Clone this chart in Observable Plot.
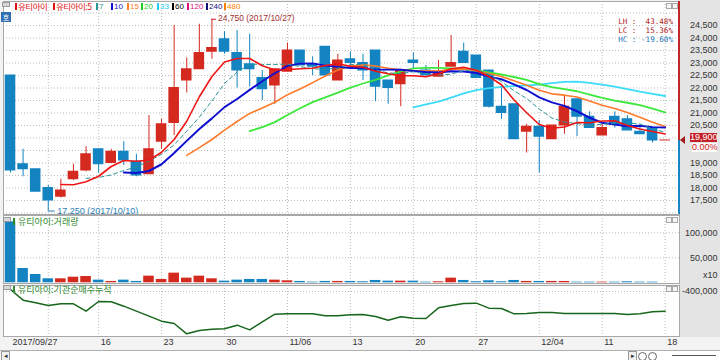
<!DOCTYPE html>
<html>
<head>
<meta charset="utf-8">
<script src="https://cdn.jsdelivr.net/npm/d3@7"></script>
<script src="https://cdn.jsdelivr.net/npm/@observablehq/plot@0.6"></script>
<style>
  html, body { margin: 0; padding: 0; background: #f3f3f3; }
  #wrap { position: relative; width: 720px; height: 360px; overflow: hidden; background: #f3f3f3;
          font-family: "Liberation Sans", "Noto Sans CJK KR", sans-serif; }
  .abs { position: absolute; }
  .panel svg { display: block; }
  .lg { position:absolute; top:1px; height:10px; display:flex; align-items:center; white-space:nowrap; font-size:8px; }
  .lg .mk { display:inline-block; width:2px; height:7px; margin-right:1px; }
  .lg .ko { font-size:8.5px; letter-spacing:-0.5px; font-family:"Noto Sans CJK KR", sans-serif; }
  .title { position:absolute; left:13px; font-size:9px; color:#2f8a2f; display:flex; align-items:center; white-space:nowrap; height:11px;
           font-family:"Noto Sans CJK KR", sans-serif; }
  .title .mk { width:2px; height:7px; background:#2f8a2f; margin-right:3px; display:inline-block; }
  .ico { position:absolute; width:6px; height:3px; border:1px solid #9a9a9a; background:#d8d8d8; }
  .btn { position:absolute; width:4px; height:4px; border:1px solid #a8a8a8; background:#f6f6f6; }
  .stat { position:absolute; right:47px; font-family:"DejaVu Sans Mono", monospace; font-size:7.6px; white-space:pre; line-height:9px; }
</style>
</head>
<body>
<div id="wrap"></div>
<script>
// ---------------- data ----------------
const tradeDates = ["2017-09-27","2017-09-28","2017-09-29","2017-10-10","2017-10-11","2017-10-12","2017-10-13",
  "2017-10-16","2017-10-17","2017-10-18","2017-10-19","2017-10-20","2017-10-23","2017-10-24","2017-10-25","2017-10-26",
  "2017-10-27","2017-10-30","2017-10-31","2017-11-01","2017-11-02","2017-11-03","2017-11-06","2017-11-07","2017-11-08",
  "2017-11-09","2017-11-10","2017-11-13","2017-11-14","2017-11-15","2017-11-16","2017-11-17","2017-11-20","2017-11-21",
  "2017-11-22","2017-11-23","2017-11-24","2017-11-27","2017-11-28","2017-11-29","2017-11-30","2017-12-01","2017-12-04",
  "2017-12-05","2017-12-06","2017-12-07","2017-12-08","2017-12-11","2017-12-12","2017-12-13","2017-12-14","2017-12-15",
  "2017-12-18"];
const openPx  = [22500,18950,18750,18000,17650,18350,18700,19550,19000,19450,19050,18550,19850,20600,22300,22750,
  23450,23950,23400,22950,22400,22100,22650,23500,22950,23650,22300,23150,23000,23500,22300,22150,23100,22700,
  22450,22850,23450,23300,22700,21250,21350,20250,20450,19950,20500,21550,20850,20100,20850,20750,20250,20400,19900];
const highPx  = [22500,19550,18750,18100,18350,18950,19650,19550,19550,19850,19350,20900,20750,24500,23200,24550,
  24750,24250,24300,24150,22700,22750,23800,23500,23250,23650,23350,23450,23350,23500,22300,22750,23400,22900,
  23100,24100,23800,23300,22700,22100,21350,20550,20700,20500,21700,21550,21050,20550,21050,20900,20450,20400,19900];
const lowPx   = [18600,18450,17850,17250,17600,18300,18650,18600,19000,18900,18450,18550,19550,20100,21800,22750,
  23150,23350,22000,22050,21500,21350,22650,22900,22500,22500,22300,22800,22300,21450,21350,21250,22750,22500,
  22450,22850,23000,22400,21200,20750,19950,19400,18600,19950,20150,20050,20400,20100,20400,20300,20150,19800,19900];
const closePx = [18700,18750,17850,17500,17900,18650,19350,18950,19450,19100,18500,19550,20550,22000,22750,23400,
  23600,23450,22700,22750,21950,22750,23500,22900,22850,22500,23100,23000,22700,22050,22000,22700,23000,22500,
  22650,23000,23000,22400,21250,21000,19950,20450,20050,20500,21250,20850,20400,20400,20550,20300,20150,19900,19900];
// volume, shown in units of 10 shares ("x10")
const volumeX10 = [122000,28600,16600,8000,8000,11200,12600,5300,2700,5300,2700,13300,6700,19300,9300,13300,
  8000,3300,5300,6700,6700,5300,4000,2700,1300,2700,2700,2700,2000,4700,3300,3300,3300,1300,2000,9300,4700,
  2000,4000,2000,4700,2700,2700,2700,2700,1300,1300,1300,1300,2000,1300,1300,0];
// institutional net buying, cumulative
const instCumulative = [-394000,-426000,-434000,-442000,-437000,-437000,-459000,-430000,-431000,-444000,-459000,
  -474000,-489000,-496000,-527000,-517000,-513000,-512000,-501000,-515000,-491000,-468000,-467000,-467000,-467000,
  -473000,-473000,-470000,-469000,-475000,-486000,-476000,-480000,-481000,-449000,-442000,-436000,-435000,-450000,
  -451000,-467000,-466000,-463000,-463000,-466000,-466000,-466000,-466000,-466000,-469000,-467000,-461000,-459000];
const maPeriods = [33, 20, 15, 10, 7, 5];
const legendLabels = ["유티아이", "유티아이:5", "7", "10", "15", "20", "33", "60", "120", "240", "480"];
const axisDates  = ["2017-09-27","2017-10-16","2017-10-23","2017-10-30","2017-11-06","2017-11-13","2017-11-20",
  "2017-11-27","2017-12-04","2017-12-11","2017-12-18"];
const axisLabels = ["2017/09/27","16","23","30","11/06","13","20","27","12/04","11","18"];
const weekGridDates = ["2017-10-10","2017-10-16","2017-10-23","2017-10-30","2017-11-06","2017-11-13","2017-11-20",
  "2017-11-27","2017-12-04","2017-12-11","2017-12-18"];
const priceTicks = [17500,18000,18500,19000,20500,21000,21500,22000,22500,23000,23500,24000,24500];
const priceGridTicks = [17000,17500,18000,18500,19000,19500,20000,20500,21000,21500,22000,22500,23000,23500,24000,24500,25000];
const volumeTicks = [50000, 100000];
const instTicks = [-400000];

// ---------------- styles / layout ----------------
const RED = "#d3291f", BLUE = "#1383c1";
const maStyle = {
  5:  {stroke: "#f01515", strokeWidth: 1.6},
  7:  {stroke: "#2b9696", strokeWidth: 1, strokeDasharray: "4,3"},
  10: {stroke: "#1010d0", strokeWidth: 2},
  15: {stroke: "#ff7b2c", strokeWidth: 1.6},
  20: {stroke: "#3de83d", strokeWidth: 1.8},
  33: {stroke: "#3cdcf8", strokeWidth: 1.8}
};
const legendColors = ["#e01010","#e01010","#2b9696","#1010d0","#ff7b2c","#22cc22","#22ccee","#000000","#e0107a","#10107a","#ff8000"];
const legendLeft = [15, 53, 96, 111, 127, 141, 157, 172, 187, 206, 224];
const GRID = {stroke: "#bdbdbd", strokeOpacity: 1, strokeDasharray: "1,2"};
const fmt = d3.format(",");
const fmtMinus = d => fmt(d).replace("\u2212", "-");

// ---------------- build ----------------
const rows = tradeDates.map((date, i) => ({
  i, date, open: openPx[i], high: highPx[i], low: lowPx[i], close: closePx[i],
  vol: volumeX10[i], inst: instCumulative[i]
}));
const idxOf = new Map(tradeDates.map((d, i) => [d, i]));
const candleColor = d => d.close >= d.open ? RED : BLUE;
const axisIdx = axisDates.map(d => idxOf.get(d));
const axisLabelOf = new Map(axisIdx.map((i, k) => [i, axisLabels[k]]));
const gridIdx = weekGridDates.map(d => idxOf.get(d));

const W = 720, ML = 3, MR = 41;
const xCfg = {domain: [-0.556, rows.length - 1 + 1.14], axis: null};
const baseStyle = {background: "transparent", fontFamily: '"Liberation Sans", sans-serif', fontSize: "9px", color: "#333", overflow: "visible"};
const half = 0.42;

const wrap = document.getElementById("wrap");
function place(el, left, top) {
  const d = document.createElement("div");
  d.className = "abs panel";
  d.style.left = left + "px"; d.style.top = top + "px";
  d.appendChild(el); wrap.appendChild(d); return d;
}
function div(cls, css, html) {
  const d = document.createElement("div");
  if (cls) d.className = cls;
  Object.assign(d.style, css);
  if (html != null) d.innerHTML = html;
  wrap.appendChild(d); return d;
}

// right grey strip
div("abs", {left: "679px", top: "0px", width: "41px", height: "337px", background: "#e4e4e4"});

const hiRow = rows.reduce((a, b) => b.high > a.high ? b : a);
const loRow = rows.reduce((a, b) => b.low < a.low ? b : a);
const last = rows[rows.length - 1], prev = rows[rows.length - 2];
const dateTxt = s => s.replace(/-/g, "/");

const priceChart = Plot.plot({
  width: W, height: 215, marginLeft: ML, marginRight: MR, marginTop: 1, marginBottom: 1,
  x: xCfg,
  y: {domain: [16940, 25460], axis: null},
  style: baseStyle,
  marks: [
    Plot.frame({fill: "white", stroke: "none"}),
    Plot.gridY({ticks: priceGridTicks, ...GRID}),
    Plot.gridX({ticks: gridIdx, ...GRID}),
    Plot.ruleX(rows, {x: "i", y1: "low", y2: "high", stroke: candleColor, strokeWidth: 1}),
    Plot.rect(rows, {x1: d => d.i - half, x2: d => d.i + half, y1: "open", y2: "close", fill: candleColor,
      insetTop: -0.5, insetBottom: -0.5}),
    ...maPeriods.map(k => Plot.lineY(rows, Plot.windowY({k, anchor: "end", reduce: "mean", strict: true},
      {x: "i", y: "close", ...maStyle[k]}))),
    Plot.ruleY([hiRow], {y: "high", x1: "i", x2: d => d.i + 0.35, stroke: "#d01010"}),
    Plot.text([hiRow], {x: "i", y: "high", text: d => `${fmt(d.high)} (${dateTxt(d.date)})`, textAnchor: "start",
      dx: 6, dy: -1, fill: "#a23030", fontSize: 8.5}),
    Plot.ruleX([loRow], {x: "i", y1: "low", y2: d => d.low - 170, stroke: "#2a80b8"}),
    Plot.ruleY([loRow], {y: d => d.low - 170, x1: "i", x2: d => d.i + 0.55, stroke: "#2a80b8"}),
    Plot.text([loRow], {x: "i", y: "low", text: d => `${fmt(d.low)} (${dateTxt(d.date)})`, textAnchor: "start",
      dx: 9, dy: 4, fill: "#2a80b8", fontSize: 9}),
    Plot.axisY({anchor: "right", label: null, ticks: priceTicks, tickFormat: fmt, tickSize: 0, tickPadding: 38,
      textAnchor: "end", fill: "#333"}),
    Plot.frame({stroke: "#a8a8a8"})
  ]
});
place(priceChart, 0, 0);

const volChart = Plot.plot({
  width: W, height: 69, marginLeft: ML, marginRight: MR, marginTop: 0, marginBottom: 1,
  x: xCfg,
  y: {domain: [-1400, 134600], axis: null},
  style: baseStyle,
  marks: [
    Plot.frame({fill: "white", stroke: "none"}),
    Plot.gridY({ticks: volumeTicks, ...GRID}),
    Plot.gridX({ticks: gridIdx, ...GRID}),
    Plot.rect(rows, {x1: d => d.i - half, x2: d => d.i + half, y1: 0, y2: "vol", fill: candleColor}),
    Plot.axisY({anchor: "right", label: null, ticks: volumeTicks, tickFormat: fmt, tickSize: 0, tickPadding: 38,
      textAnchor: "end", fill: "#333"}),
    Plot.text(["x10"], {frameAnchor: "bottom-right", dx: 38, dy: -6, textAnchor: "end", fill: "#333"}),
    Plot.frame({stroke: "#a8a8a8"})
  ]
});
place(volChart, 0, 215);

const instChart = Plot.plot({
  width: W, height: 66, marginLeft: ML, marginRight: MR, marginTop: 1, marginBottom: 14,
  x: xCfg,
  y: {domain: [-535000, -382000], axis: null},
  style: baseStyle,
  marks: [
    Plot.frame({fill: "white", stroke: "none"}),
    Plot.gridY({ticks: instTicks, ...GRID}),
    Plot.gridX({ticks: gridIdx, ...GRID}),
    Plot.lineY(rows, {x: "i", y: "inst", stroke: "#17661c", strokeWidth: 1.5}),
    Plot.axisY({anchor: "right", label: null, ticks: instTicks, tickFormat: fmtMinus, tickSize: 0, tickPadding: 38,
      textAnchor: "end", fill: "#333"}),
    Plot.axisX({anchor: "bottom", label: null, ticks: axisIdx, tickFormat: i => axisLabelOf.get(i), tickSize: 0,
      tickPadding: 2, textAnchor: "start", dx: 2, fill: "#333"}),
    Plot.frame({stroke: "#a8a8a8"})
  ]
});
place(instChart, 0, 284);

// ---------------- overlays ----------------
// legend
legendLabels.forEach((t, k) => {
  const ko = /[\uAC00-\uD7A3]/.test(t);
  div("lg", {left: legendLeft[k] + "px"},
    `<span class="mk" style="background:${legendColors[k]}"></span><span class="${ko ? "ko" : ""}" style="color:${legendColors[k]}">${t}</span>`);
});
// top-left icons
div("ico", {left: "2px", top: "2px"});
div("abs", {left: "1px", top: "12px", width: "10px", height: "10px", background: "#2f6fb0", color: "#fff",
  fontSize: "7px", lineHeight: "10px", textAlign: "center", fontFamily: '"Noto Sans CJK KR", sans-serif'}, "호");

// current price indicator on the right edge of the price panel
const ys = priceChart.scale("y");
const yc = ys.apply(last.close);
const yTop = ys.apply(ys.domain[1]), yBot = ys.apply(ys.domain[0]);
div("abs", {left: "678px", top: yTop + "px", width: "2px", height: (yc - yTop) + "px", background: "#c0282a"});
div("abs", {left: "678px", top: yc + "px", width: "2px", height: (yBot - yc) + "px", background: "#1a86c8"});
div("abs", {left: "680px", top: (yc - 4) + "px", width: "0", height: "0", borderRight: "5px solid #a01818",
  borderTop: "4px solid transparent", borderBottom: "4px solid transparent"});
div("abs", {left: "690px", top: (yc - 7) + "px", width: "27px", height: "9px", background: "#c41f27", color: "#fff",
  fontSize: "9px", lineHeight: "9px", textAlign: "right"}, fmt(last.close));
const chg = (last.close - prev.close) / prev.close * 100;
div("abs", {left: "692px", top: (yc + 3) + "px", width: "25px", height: "9px", background: "#fff", color: "#d01818",
  fontSize: "9px", lineHeight: "9px", textAlign: "right"}, d3.format(".2f")(chg) + "%");

// LH / LC / HC statistics
const LH = (hiRow.high / loRow.low - 1) * 100;
const LC = (last.close / loRow.low - 1) * 100;
const HC = (last.close / hiRow.high - 1) * 100;
const pct = v => (v < 0 ? "-" : " ") + d3.format(".2f")(Math.abs(v)) + "%";
div("stat", {top: "17px", color: "#b02020"}, "LH : " + pct(LH));
div("stat", {top: "26px", color: "#b02020"}, "LC : " + pct(LC));
div("stat", {top: "35px", color: "#2878b8"}, "HC : " + pct(HC));

// panel buttons
[3, 217, 286].forEach(t => {
  div("btn", {left: "666px", top: t + "px"});
  div("btn", {left: "672px", top: t + "px"});
});

// panel titles
div("ico", {left: "3px", top: "217px"});
div("title", {top: "216px"}, `<span class="mk"></span>유티아이:거래량`);
div("ico", {left: "3px", top: "285px"});
div("title", {top: "284px"}, `<span class="mk"></span>유티아이:기관순매수누적`);

// scrollbar
div("abs", {left: "0px", top: "350px", width: "720px", height: "10px", background: "#ffffff", borderTop: "1px solid #b0b0b0"});
div("abs", {left: "1px", top: "351px", width: "7px", height: "8px", border: "1px solid #9a9a9a", background: "#f0f0f0",
  fontSize: "7px", lineHeight: "8px", textAlign: "center", color: "#333"}, "◂");
div("abs", {left: "628px", top: "351px", width: "7px", height: "8px", border: "1px solid #9a9a9a", background: "#f0f0f0",
  fontSize: "7px", lineHeight: "8px", textAlign: "center", color: "#333"}, "▸");
div("abs", {left: "638px", top: "352px", width: "7px", height: "7px", border: "1px solid #666", borderRadius: "50%"});
div("abs", {left: "648px", top: "352px", width: "7px", height: "7px", border: "1px solid #666", borderRadius: "50%"});
div("abs", {left: "672px", top: "355px", width: "44px", height: "1px", background: "#555"});
</script>
</body>
</html>
